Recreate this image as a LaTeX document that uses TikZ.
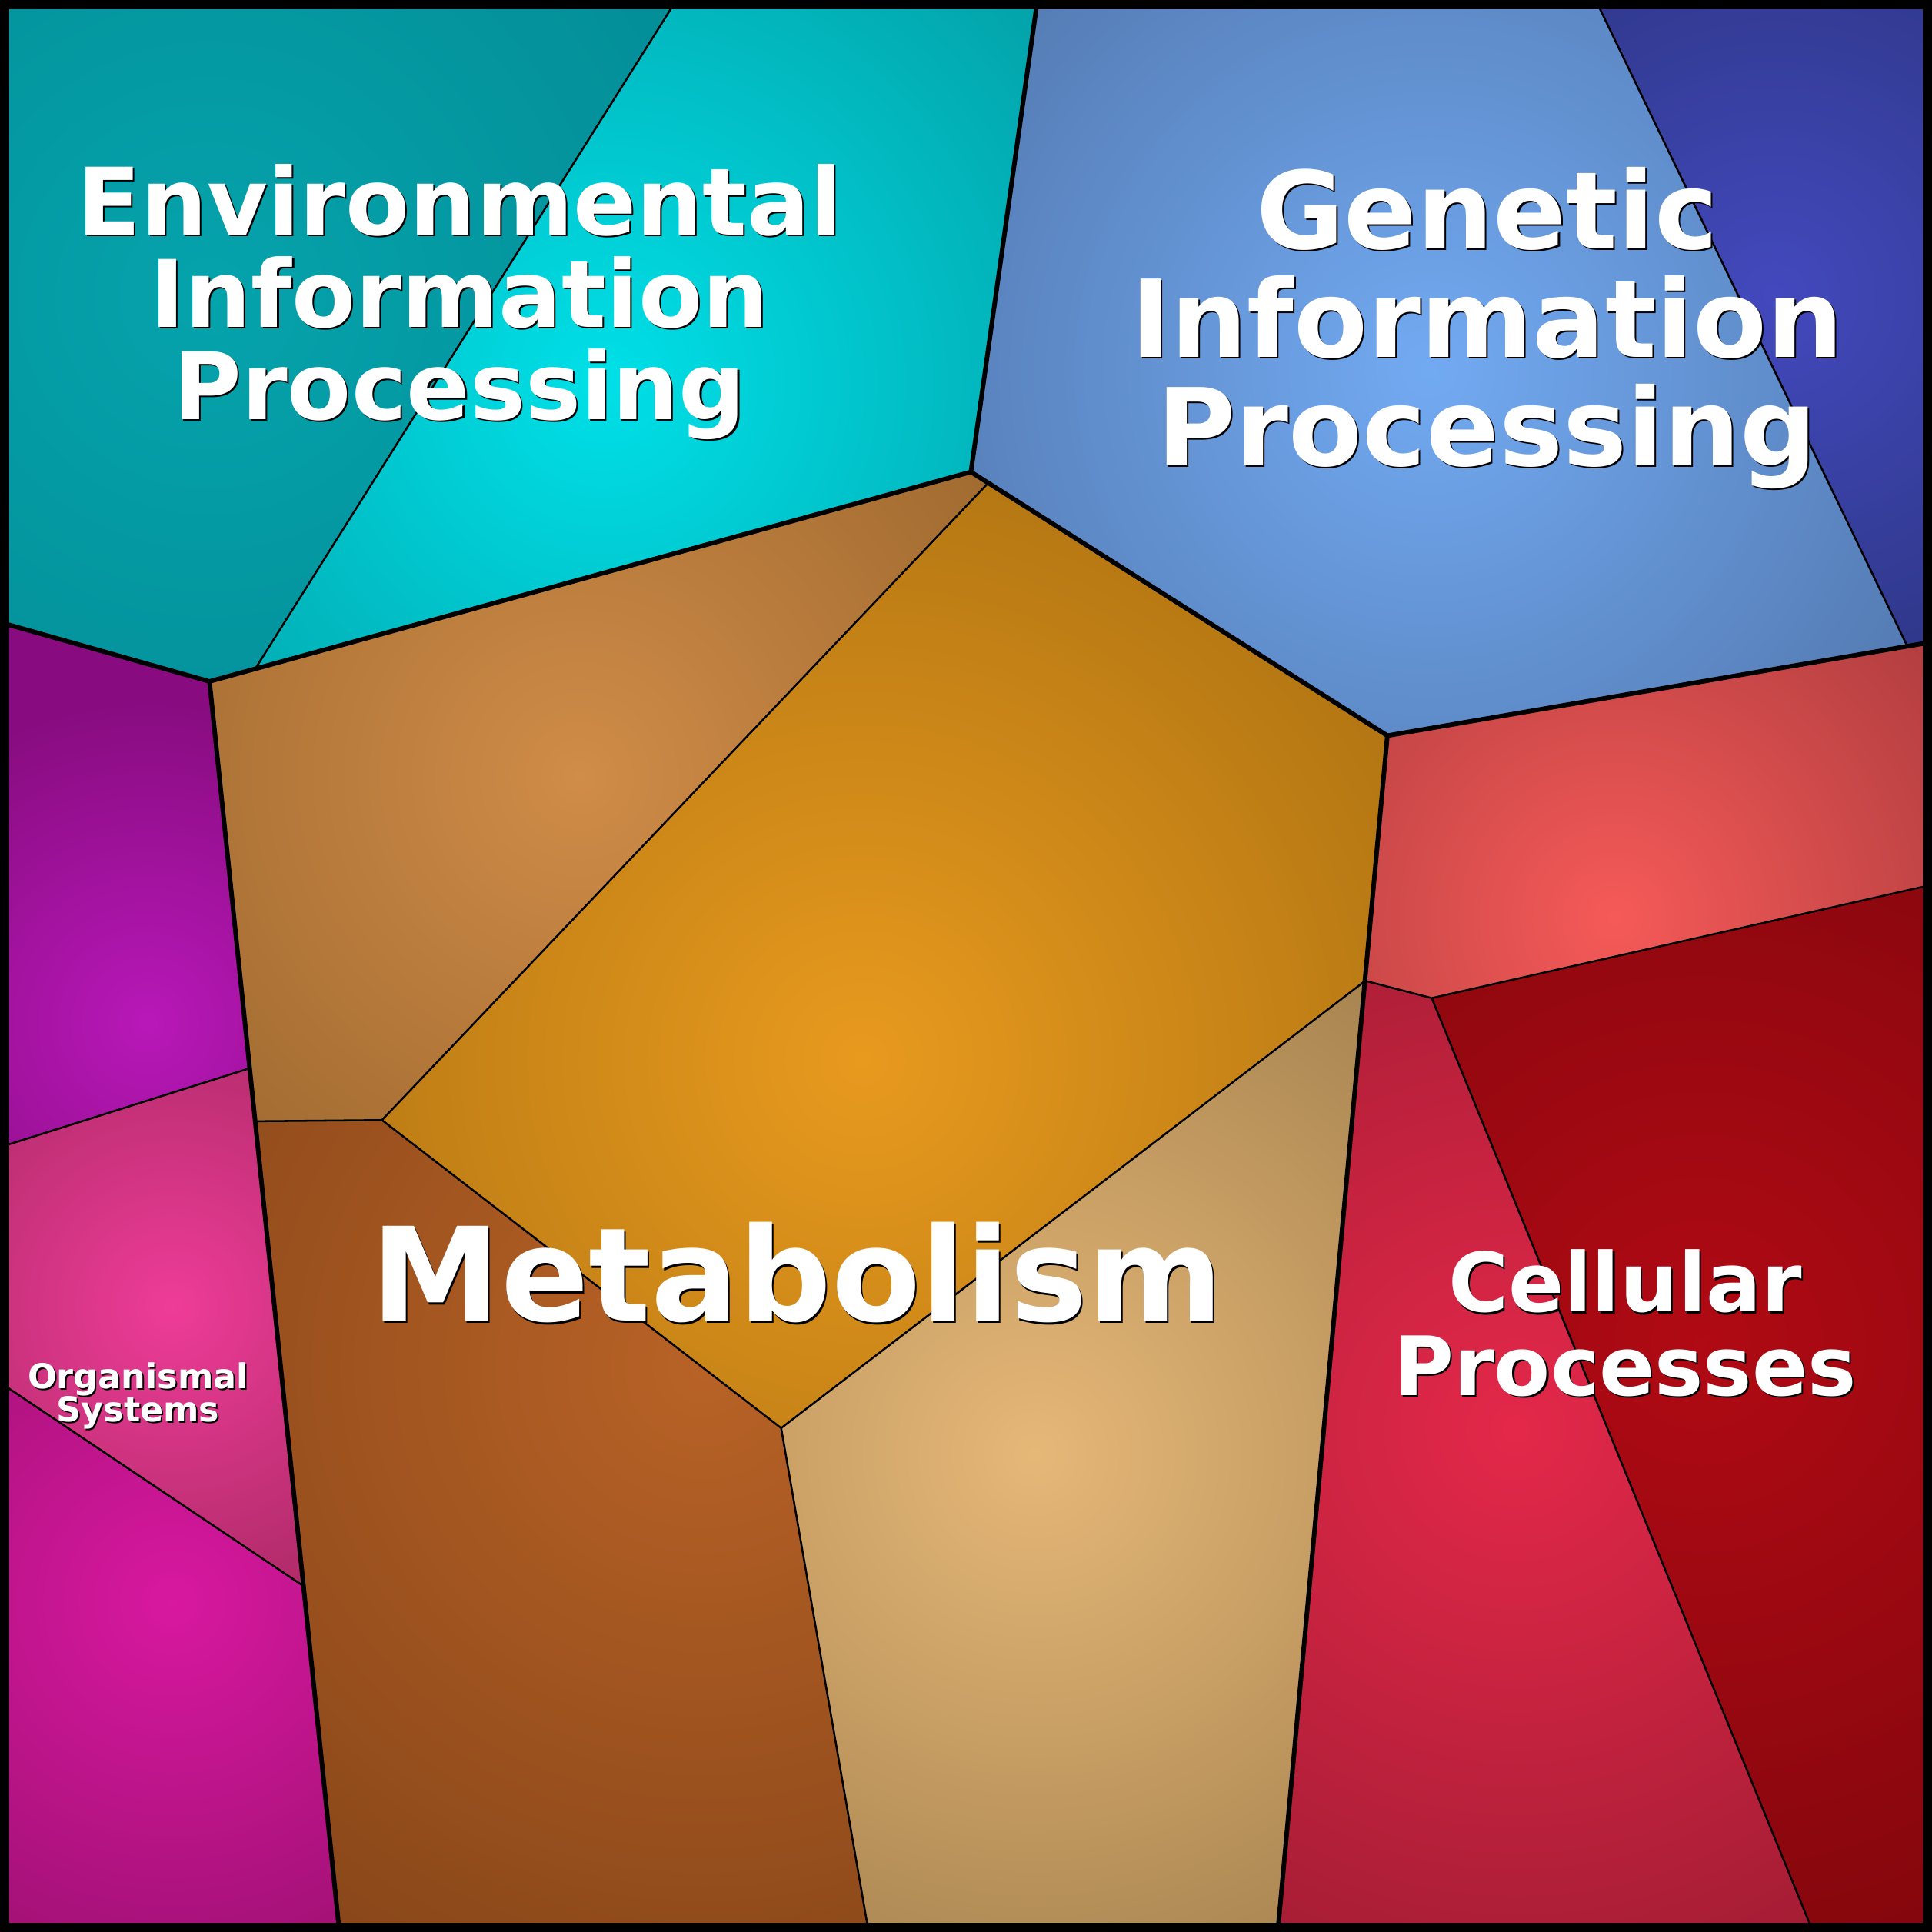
\documentclass[tikz,border=0pt]{standalone}
\usepackage{fontspec}
\setmainfont{DejaVu Sans}
% cell colours: inner (bright centre) / outer (edge)
\definecolor{envAin}{HTML}{05A3AC}\definecolor{envAout}{HTML}{038B95}
\definecolor{envBin}{HTML}{00E0E8}\definecolor{envBout}{HTML}{03A3AA}
\definecolor{genCin}{HTML}{72AAF2}\definecolor{genCout}{HTML}{5379B0}
\definecolor{genDin}{HTML}{4349BD}\definecolor{genDout}{HTML}{2E3788}
\definecolor{celEin}{HTML}{F55A58}\definecolor{celEout}{HTML}{AE3C3E}
\definecolor{celFin}{HTML}{B00A14}\definecolor{celFout}{HTML}{80060C}
\definecolor{celGin}{HTML}{E4284A}\definecolor{celGout}{HTML}{A01C32}
\definecolor{metHin}{HTML}{D08C48}\definecolor{metHout}{HTML}{A06A30}
\definecolor{metIin}{HTML}{E89A1E}\definecolor{metIout}{HTML}{B07412}
\definecolor{metJin}{HTML}{B86226}\definecolor{metJout}{HTML}{844418}
\definecolor{metKin}{HTML}{E6B878}\definecolor{metKout}{HTML}{A88450}
\definecolor{orgLin}{HTML}{B818B8}\definecolor{orgLout}{HTML}{880C80}
\definecolor{orgMin}{HTML}{EE3C98}\definecolor{orgMout}{HTML}{B42C6C}
\definecolor{orgNin}{HTML}{D818A0}\definecolor{orgNout}{HTML}{9C1070}
\tikzset{
  thinedge/.style={line width=0.45pt,line join=round},
  thickedge/.style={line width=1.05pt,line join=round},
  lbl/.style={align=center,inner sep=0pt,text=white},
  lblshadow/.style={align=center,inner sep=0pt,text=black,xshift=0.013cm,yshift=-0.013cm}
}
% polygon, centre, shading radius, inner, outer
\newcommand{\vcell}[5]{%
  \begin{scope}
    \clip #1 -- cycle;
    \fill[#5] #1 -- cycle;
    \shade[inner color=#4,outer color=#5] #2 circle (#3);
  \end{scope}}
% name, position, size, skip, text
\newcommand{\klabel}[5]{%
  \node[lblshadow,font={\fontsize{#3}{#4}\selectfont\bfseries}] at #2 {#5};
  \node[lbl,font={\fontsize{#3}{#4}\selectfont\bfseries}] (#1) at #2 {#5};}
\begin{document}
\begin{tikzpicture}[x=0.01cm,y=-0.01cm]
  \useasboundingbox (0,0) rectangle (1568,1568);
  % vertices
  \coordinate (tl) at (0,0);      \coordinate (tr) at (1568,0);
  \coordinate (bl) at (0,1568);   \coordinate (br) at (1568,1568);
  \coordinate (t1) at (549,0);    \coordinate (t2) at (842,0);    \coordinate (t3) at (1295,0);
  \coordinate (l1) at (0,505);    \coordinate (l2) at (0,931);    \coordinate (l3) at (0,1122);
  \coordinate (r1) at (1568,521); \coordinate (r2) at (1568,718);
  \coordinate (b1) at (275.5,1568); \coordinate (b2) at (705,1568);
  \coordinate (b3) at (1037,1568);  \coordinate (b4) at (1471.5,1568);
  \coordinate (a) at (170,553);   \coordinate (b) at (207,543);
  \coordinate (c) at (788,383);   \coordinate (d) at (802,392);
  \coordinate (e) at (1126,597);  \coordinate (f) at (1548,524.5);
  \coordinate (g) at (1108,796);  \coordinate (h) at (1162,810);
  \coordinate (i) at (202.5,867); \coordinate (j) at (207,910);
  \coordinate (k) at (310,909);   \coordinate (m) at (634,1159);
  \coordinate (n) at (246,1287);

  % environmental
  \vcell{(tl) -- (t1) -- (b) -- (a) -- (l1)}{(170,240)}{500}{envAin}{envAout}
  \vcell{(t1) -- (t2) -- (c) -- (b)}{(490,310)}{460}{envBin}{envBout}
  % genetic
  \vcell{(t2) -- (t3) -- (f) -- (e) -- (d) -- (c)}{(1160,300)}{470}{genCin}{genCout}
  \vcell{(t3) -- (tr) -- (r1) -- (f)}{(1440,240)}{320}{genDin}{genDout}
  % cellular
  \vcell{(e) -- (f) -- (r1) -- (r2) -- (h) -- (g)}{(1310,745)}{360}{celEin}{celEout}
  \vcell{(h) -- (r2) -- (br) -- (b4)}{(1380,1090)}{560}{celFin}{celFout}
  \vcell{(g) -- (h) -- (b4) -- (b3)}{(1230,1160)}{500}{celGin}{celGout}
  % metabolism
  \vcell{(a) -- (b) -- (c) -- (d) -- (k) -- (j)}{(470,630)}{420}{metHin}{metHout}
  \vcell{(d) -- (e) -- (g) -- (m) -- (k)}{(700,860)}{530}{metIin}{metIout}
  \vcell{(j) -- (k) -- (m) -- (b2) -- (b1)}{(570,1110)}{600}{metJin}{metJout}
  \vcell{(m) -- (g) -- (b3) -- (b2)}{(840,1180)}{470}{metKin}{metKout}
  % organismal
  \vcell{(l1) -- (a) -- (i) -- (l2)}{(120,830)}{260}{orgLin}{orgLout}
  \vcell{(l2) -- (i) -- (n) -- (l3)}{(140,1060)}{230}{orgMin}{orgMout}
  \vcell{(l3) -- (n) -- (b1) -- (bl)}{(140,1300)}{340}{orgNin}{orgNout}

  % edges inside a category
  \draw[thinedge] (t1) -- (b);
  \draw[thinedge] (t3) -- (f);
  \draw[thinedge] (g) -- (h) -- (r2);
  \draw[thinedge] (h) -- (b4);
  \draw[thinedge] (d) -- (k) -- (j);
  \draw[thinedge] (k) -- (m) -- (g);
  \draw[thinedge] (m) -- (b2);
  \draw[thinedge] (l2) -- (i);
  \draw[thinedge] (l3) -- (n);
  % edges between categories
  \draw[thickedge] (l1) -- (a) -- (c) -- (t2);
  \draw[thickedge] (c) -- (e) -- (r1);
  \draw[thickedge] (e) -- (b3);
  \draw[thickedge] (a) -- (b1);
  % frame
  \draw[line width=2.13pt] (3.75,3.75) rectangle (1564.25,1564.25);

  % labels
  \klabel{env}{(373,245)}{21.5pt}{21.3pt}{Environmental\\Information\\Processing}
  \klabel{gen}{(1207,266)}{24.8pt}{25pt}{Genetic\\Information\\Processing}
  \klabel{met}{(647,1033)}{30pt}{30pt}{Metabolism}
  \klabel{cel}{(1319,1074)}{18.9pt}{19.3pt}{Cellular\\Processes}
  \klabel{org}{(112,1133)}{7.9pt}{7.65pt}{Organismal\\Systems}
\end{tikzpicture}
\end{document}
